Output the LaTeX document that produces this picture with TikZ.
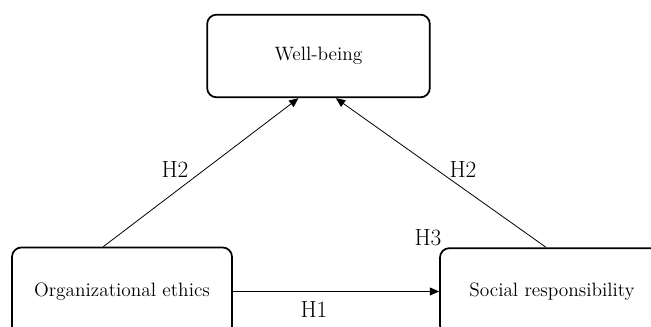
\documentclass[tikz,border=0pt]{standalone}
\usetikzlibrary{arrows.meta}
\tikzstyle{rect} = [rectangle, rounded corners=7pt, minimum width=167pt, minimum height=62pt, text centered, draw=black, line width=1.3pt, font=\fontsize{14.5}{16}\selectfont]
\tikzstyle{blank} = [rectangle, inner sep=0pt, font=\fontsize{17.5}{19}\selectfont]
\tikzstyle{arrow} = [-{Triangle[length=7pt,width=6pt]}, line width=0.6pt]

\begin{document}
\begin{tikzpicture}[x=0.75pt, y=-0.75pt]
    \clip (0,0) rectangle (651,327);
    \useasboundingbox (0,0) rectangle (651,327);
    \node (wb) [rect] at (318.5,56) {Well-being};
    \node (oe) [rect, minimum height=66pt, minimum width=165pt] at (122,291.5) {Organizational ethics};
    \node (sr) [rect, minimum height=65pt, minimum width=168pt] at (552,291.5) {Social responsibility};
    \node (h2a) [blank] at (175,170) {H2};
    \node (h2b) [blank] at (463,170) {H2};
    \node (h3) [blank] at (428,238) {H3};
    \node (h1) [blank] at (314,310) {H1};
    \draw [arrow] ([xshift=-14pt]oe.north) -- ([xshift=-15pt]wb.south);
    \draw [arrow] ([xshift=-4.5pt]sr.north) -- ([xshift=13pt]wb.south);
    \draw [arrow] (oe.east) -- (sr.west);
\end{tikzpicture}
\end{document}
